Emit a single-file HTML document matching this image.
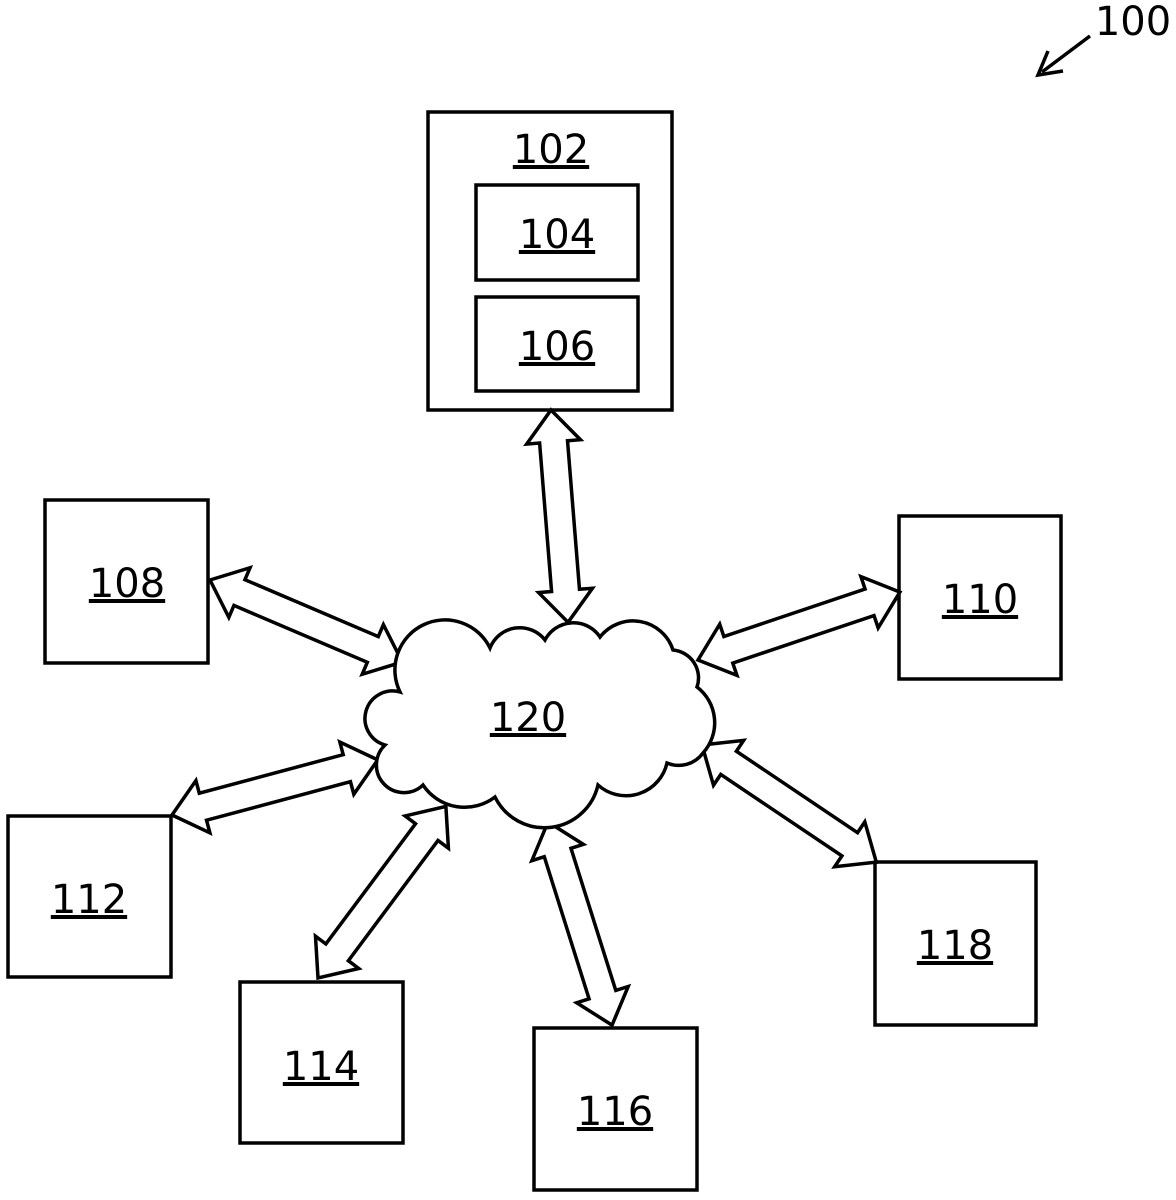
<!DOCTYPE html>
<html><head><meta charset="utf-8"><style>
html,body{margin:0;padding:0;background:#fff;}
svg{display:block;}
text{font-family:"DejaVu Sans",sans-serif;font-size:40px;fill:#000;text-decoration:underline;}
</style></head><body>
<svg width="1176" height="1200" viewBox="0 0 1176 1200" xmlns="http://www.w3.org/2000/svg">
<g fill="#fff" stroke="#000" stroke-width="3.5">
<rect x="428" y="112" width="244" height="298"/>
<rect x="476" y="185" width="162" height="95"/>
<rect x="476" y="297" width="162" height="94"/>
<rect x="45" y="500" width="163" height="163"/>
<rect x="899" y="516" width="162" height="163"/>
<rect x="8" y="816" width="163" height="161"/>
<rect x="240" y="982" width="163" height="161"/>
<rect x="534" y="1028" width="163" height="162"/>
<rect x="875" y="862" width="161" height="163"/>
</g>
<g fill="#fff" stroke="#000" stroke-width="3.5" stroke-linejoin="miter">
<polygon transform="translate(551,410) rotate(85.4)" points="0,0 32,-27 32,-14 181,-14 181,-27 213,0 181,27 181,14 32,14 32,27"/>
<polygon transform="translate(210,580) rotate(23.1)" points="0,0 32,-27 32,-14 177,-14 177,-27 209,0 177,27 177,14 32,14 32,27"/>
<polygon transform="translate(698,660) rotate(-18.6)" points="0,0 32,-27 32,-14 181,-14 181,-27 213,0 181,27 181,14 32,14 32,27"/>
<polygon transform="translate(172,815) rotate(-15)" points="0,0 32,-27 32,-14 181,-14 181,-27 213,0 181,27 181,14 32,14 32,27"/>
<polygon transform="translate(318,978) rotate(-53.3)" points="0,0 32,-27 32,-14 182,-14 182,-27 214,0 182,27 182,14 32,14 32,27"/>
<polygon transform="translate(548,822) rotate(72.5)" points="0,0 32,-27 32,-14 181,-14 181,-27 213,0 181,27 181,14 32,14 32,27"/>
<polygon transform="translate(702,745) rotate(33.9)" points="0,0 32,-27 32,-14 178,-14 178,-27 210,0 178,27 178,14 32,14 32,27"/>
</g>
<path fill="#fff" stroke="#000" stroke-width="3.5" d="M400,692 A50,50 0 0 1 490,648 A32,32 0 0 1 545,640 A32,32 0 0 1 600,637 A42,42 0 0 1 673,650 A28,28 0 0 1 697,687 A45,45 0 0 1 703,753 A30,30 0 0 1 667,763 A42,42 0 0 1 598,785 A55,55 0 0 1 495,797 A50,50 0 0 1 423,785 A26,26 0 0 1 385,745 A26,26 0 0 1 400,692 Z"/>
<text x="551" y="163" text-anchor="middle">102</text>
<text x="557" y="248" text-anchor="middle">104</text>
<text x="557" y="360" text-anchor="middle">106</text>
<text x="127" y="597" text-anchor="middle">108</text>
<text x="980" y="613" text-anchor="middle">110</text>
<text x="89" y="913" text-anchor="middle">112</text>
<text x="321" y="1080" text-anchor="middle">114</text>
<text x="615" y="1125" text-anchor="middle">116</text>
<text x="955" y="959" text-anchor="middle">118</text>
<text x="528" y="731" text-anchor="middle">120</text>
<text x="1133" y="35" text-anchor="middle" style="text-decoration:none">100</text>
<line x1="1090" y1="36" x2="1042" y2="72" stroke="#000" stroke-width="3.5"/>
<polyline points="1048,51 1038,75 1063,71" fill="none" stroke="#000" stroke-width="3.5"/>
</svg>
</body></html>
